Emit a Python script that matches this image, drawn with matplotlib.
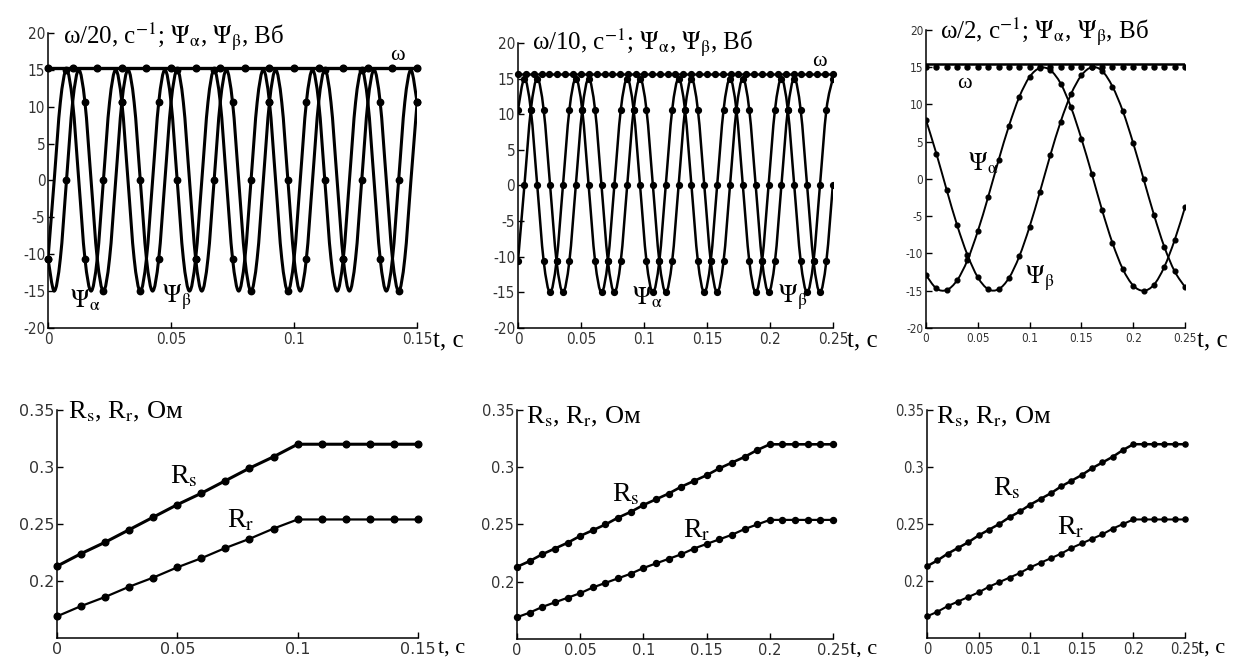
import numpy as np
import matplotlib
matplotlib.use('Agg')
import matplotlib.pyplot as plt
from matplotlib.path import Path
from matplotlib.patches import PathPatch

plt.rcParams['mathtext.fontset'] = 'stix'
SERIF = ['Liberation Serif', 'DejaVu Serif']
NARROW = ['Liberation Sans Narrow', 'DejaVu Sans']
SANS = ['DejaVu Sans']

# ---- top left: omega/20, psi_alpha, psi_beta, 0..0.15 s
t1 = np.arange(61) * 0.0025
psi_a1 = [-10.6, 0, 10.6, 15, 10.6, 0, -10.6, -15,
          -10.6, 0, 10.6, 15, 10.6, 0, -10.6, -15,
          -10.6, 0, 10.6, 15, 10.6, 0, -10.6, -15,
          -10.6, 0, 10.6, 15, 10.6, 0, -10.6, -15,
          -10.6, 0, 10.6, 15, 10.6, 0, -10.6, -15,
          -10.6, 0, 10.6, 15, 10.6, 0, -10.6, -15,
          -10.6, 0, 10.6, 15, 10.6, 0, -10.6, -15,
          -10.6, 0, 10.6, 15, 10.6]
psi_b1 = [-10.6, -15, -10.6, 0, 10.6, 15, 10.6, 0,
          -10.6, -15, -10.6, 0, 10.6, 15, 10.6, 0,
          -10.6, -15, -10.6, 0, 10.6, 15, 10.6, 0,
          -10.6, -15, -10.6, 0, 10.6, 15, 10.6, 0,
          -10.6, -15, -10.6, 0, 10.6, 15, 10.6, 0,
          -10.6, -15, -10.6, 0, 10.6, 15, 10.6, 0,
          -10.6, -15, -10.6, 0, 10.6, 15, 10.6, 0,
          -10.6, -15, -10.6, 0, 10.6]
tw1 = np.arange(16) * 0.01
w1 = [15.2] * 16

# ---- top middle: omega/10, 0..0.25 s
t2 = np.arange(50) * 0.0051
psi_a2 = [10.6, 15, 10.6, 0, -10.6, -15, -10.6, 0,
          10.6, 15, 10.6, 0, -10.6, -15, -10.6, 0,
          10.6, 15, 10.6, 0, -10.6, -15, -10.6, 0,
          10.6, 15, 10.6, 0, -10.6, -15, -10.6, 0,
          10.6, 15, 10.6, 0, -10.6, -15, -10.6, 0,
          10.6, 15, 10.6, 0, -10.6, -15, -10.6, 0,
          10.6, 15]
psi_b2 = [-10.6, 0, 10.6, 15, 10.6, 0, -10.6, -15,
          -10.6, 0, 10.6, 15, 10.6, 0, -10.6, -15,
          -10.6, 0, 10.6, 15, 10.6, 0, -10.6, -15,
          -10.6, 0, 10.6, 15, 10.6, 0, -10.6, -15,
          -10.6, 0, 10.6, 15, 10.6, 0, -10.6, -15,
          -10.6, 0, 10.6, 15, 10.6, 0, -10.6, -15,
          -10.6, 0]
tw2 = np.arange(41) * 0.00625
w2 = [15.7] * 41

# ---- top right: omega/2, 0..0.25 s
t3 = np.arange(26) * 0.01
psi_a3 = [7.9, 3.4, -1.5, -6.2, -10.2, -13.2, -14.8, -14.8, -13.3, -10.4,
          -6.4, -1.7, 3.2, 7.7, 11.4, 13.9, 15.0, 14.5, 12.4, 9.1,
          4.8, 0.0, -4.8, -9.1, -12.4, -14.5]
psi_b3 = [-12.9, -14.7, -14.9, -13.6, -10.9, -7.0, -2.4, 2.5, 7.1, 11.0,
          13.7, 14.9, 14.6, 12.8, 9.6, 5.4, 0.7, -4.2, -8.6, -12.1,
          -14.3, -15.0, -14.2, -11.8, -8.2, -3.8]
w3_line = [15.4] * 26
w3_mark = [15.0] * 26

# ---- bottom: R_s, R_r
t4 = np.arange(16) * 0.01
rs4 = [0.213, 0.224, 0.234, 0.245, 0.256, 0.267, 0.277, 0.288, 0.299, 0.309,
       0.320, 0.320, 0.320, 0.320, 0.320, 0.320]
rr4 = [0.169, 0.178, 0.186, 0.195, 0.203, 0.212, 0.220, 0.229, 0.237, 0.246,
       0.254, 0.254, 0.254, 0.254, 0.254, 0.254]
t5 = np.arange(26) * 0.01
rs5 = [0.213, 0.218, 0.224, 0.229, 0.234, 0.240, 0.245, 0.250, 0.256, 0.261,
       0.267, 0.272, 0.277, 0.283, 0.288, 0.293, 0.299, 0.304, 0.309, 0.315,
       0.320, 0.320, 0.320, 0.320, 0.320, 0.320]
rr5 = [0.169, 0.173, 0.178, 0.182, 0.186, 0.190, 0.195, 0.199, 0.203, 0.207,
       0.212, 0.216, 0.220, 0.224, 0.229, 0.233, 0.237, 0.241, 0.246, 0.250,
       0.254, 0.254, 0.254, 0.254, 0.254, 0.254]

psi_yticks = [-20, -15, -10, -5, 0, 5, 10, 15, 20]
r_yticks = [0.2, 0.25, 0.3, 0.35]
r_ylabels = ['0.2', '0.25', '0.3', '0.35']
x15 = [0, 0.05, 0.1, 0.15]
x15_lab = ['0', '0.05', '0.1', '0.15']
x25 = [0, 0.05, 0.1, 0.15, 0.2, 0.25]
x25_lab = ['0', '0.05', '0.1', '0.15', '0.2', '0.25']


def smooth(ax, x, y, lw):
    # Catmull-Rom curve through the points, drawn as cubic Bezier path
    x = np.asarray(x, float)
    y = np.asarray(y, float)
    xp = np.r_[x[0], x, x[-1]]
    yp = np.r_[y[0], y, y[-1]]
    verts = [(x[0], y[0])]
    codes = [Path.MOVETO]
    for i in range(len(x) - 1):
        c1 = (xp[i + 1] + (xp[i + 2] - xp[i]) / 6, yp[i + 1] + (yp[i + 2] - yp[i]) / 6)
        c2 = (xp[i + 2] - (xp[i + 3] - xp[i + 1]) / 6, yp[i + 2] - (yp[i + 3] - yp[i + 1]) / 6)
        verts += [c1, c2, (x[i + 1], y[i + 1])]
        codes += [Path.CURVE4] * 3
    ax.add_patch(PathPatch(Path(verts, codes), fill=False, lw=lw, ec='k',
                           joinstyle='round', capstyle='round'))


def setup(ax, xlim, ylim, xt, xl, yt, yl, fam, size, stretch='normal'):
    ax.set_xlim(xlim)
    ax.set_ylim(ylim)
    ax.set_xticks(xt)
    ax.set_xticklabels(xl, family=fam, fontsize=size, color='#333333',
                       fontstretch=stretch)
    ax.set_yticks(yt)
    ax.set_yticklabels(yl, family=fam, fontsize=size, color='#333333',
                       fontstretch=stretch)
    for s in ['top', 'right']:
        ax.spines[s].set_visible(False)
    for s in ['left', 'bottom']:
        ax.spines[s].set_linewidth(1.1)
    ax.tick_params(direction='in', length=4, width=1, pad=2)
    ax.tick_params(axis='x', pad=3)


def tlabel(ax, dx, dy, size):
    ax.annotate('t, с', xy=(1, 0), xycoords='axes fraction', xytext=(dx, dy),
                textcoords='offset pixels', ha='left', va='baseline',
                family=SERIF, fontsize=size)


fig = plt.figure(figsize=(12.38, 6.57), dpi=100)
fig.patch.set_facecolor('white')

ax1 = fig.add_axes([0.0388, 0.5008, 0.2981, 0.4490])
ax2 = fig.add_axes([0.4184, 0.5008, 0.2544, 0.4338])
ax3 = fig.add_axes([0.7480, 0.5008, 0.2092, 0.4536])
ax4 = fig.add_axes([0.0460, 0.0289, 0.2916, 0.3470])
ax5 = fig.add_axes([0.4176, 0.0274, 0.2553, 0.3486])
ax6 = fig.add_axes([0.7488, 0.0289, 0.2084, 0.3470])

psi_ylab = [str(v) for v in psi_yticks]

# panel 1
setup(ax1, (0, 0.15), (-20, 20), x15, x15_lab, psi_yticks, psi_ylab, NARROW, 11, 'condensed')
smooth(ax1, t1, psi_a1, 2.2)
smooth(ax1, t1, psi_b1, 2.2)
ax1.plot(t1[::3], psi_a1[::3], 'o', color='k', ms=4.6, clip_on=False)
ax1.plot(t1[::3], psi_b1[::3], 'o', color='k', ms=4.6, clip_on=False)
ax1.plot(tw1, w1, '-o', color='k', lw=2.4, ms=4.8, clip_on=False)
ax1.text(0.0061, 19.5, 'ω/20, с$^{-1}$; $\\Psi_{\\mathrm{\\alpha}}$, $\\Psi_{\\mathrm{\\beta}}$, Вб',
         family=SERIF, fontsize=18, va='center', ha='left')
ax1.text(0.0089, -16.2, '$\\Psi_{\\mathrm{\\alpha}}$', fontsize=18, va='center')
ax1.text(0.0463, -15.9, '$\\Psi_{\\mathrm{\\beta}}$', fontsize=18, va='center')
ax1.text(0.139, 16.9, 'ω', family=SERIF, fontsize=16, va='center')
tlabel(ax1, 16, -19, 18)

# panel 2
setup(ax2, (0, 0.25), (-20, 20), x25, x25_lab, psi_yticks, psi_ylab, NARROW, 11, 'condensed')
smooth(ax2, t2, psi_a2, 1.8)
smooth(ax2, t2, psi_b2, 1.8)
ax2.plot(t2, psi_a2, 'o', color='k', ms=4.2)
ax2.plot(t2, psi_b2, 'o', color='k', ms=4.2)
ax2.plot(tw2, w2, '-o', color='k', lw=1.8, ms=4.2, clip_on=False)
ax2.text(0.011, 20.0, 'ω/10, с$^{-1}$; $\\Psi_{\\mathrm{\\alpha}}$, $\\Psi_{\\mathrm{\\beta}}$, Вб',
         family=SERIF, fontsize=18, va='center', ha='left')
ax2.text(0.0905, -15.7, '$\\Psi_{\\mathrm{\\alpha}}$', fontsize=18, va='center')
ax2.text(0.2063, -15.7, '$\\Psi_{\\mathrm{\\beta}}$', fontsize=18, va='center')
ax2.text(0.2333, 17.4, 'ω', family=SERIF, fontsize=16, va='center')
tlabel(ax2, 14, -19, 18)

# panel 3
setup(ax3, (0, 0.25), (-20, 20), x25, x25_lab, psi_yticks, psi_ylab, NARROW, 8.5, 'condensed')
smooth(ax3, t3, psi_a3, 1.4)
smooth(ax3, t3, psi_b3, 1.4)
ax3.plot(t3, psi_a3, 'o', color='k', ms=3.4)
ax3.plot(t3, psi_b3, 'o', color='k', ms=3.4)
ax3.plot(t3, w3_line, '-', color='k', lw=1.8)
ax3.plot(t3, w3_mark, 'o', color='k', ms=3.6)
ax3.text(0.0135, 19.7, 'ω/2, с$^{-1}$; $\\Psi_{\\mathrm{\\alpha}}$, $\\Psi_{\\mathrm{\\beta}}$, Вб',
         family=SERIF, fontsize=18, va='center', ha='left')
ax3.text(0.030, 12.75, 'ω', family=SERIF, fontsize=16, va='center')
ax3.text(0.0405, 2.1, '$\\Psi_{\\mathrm{\\alpha}}$', fontsize=18, va='center')
ax3.text(0.0956, -13.3, '$\\Psi_{\\mathrm{\\beta}}$', fontsize=18, va='center')
tlabel(ax3, 12, -19, 18)

# bottom panels
r_title = 'R$_\\mathrm{s}$, R$_\\mathrm{r}$, Ом'
bottom = [
    (ax4, t4, rs4, rr4, (0, 0.15), x15, x15_lab, SANS, 11.5, 'normal', 2.2, 1.6, 4.8,
     (0.0046, 0.348), (0.047, 0.2916), (0.0706, 0.2532), 20),
    (ax5, t5, rs5, rr5, (0, 0.25), x25, x25_lab, SANS, 10.5, 'normal', 1.9, 1.6, 4.3,
     (0.007, 0.344), (0.0752, 0.2759), (0.1313, 0.2445), 17),
    (ax6, t5, rs5, rr5, (0, 0.25), x25, x25_lab, NARROW, 10.5, 'condensed', 1.8, 1.5, 3.7,
     (0.0087, 0.344), (0.064, 0.281), (0.126, 0.247), 13),
]
for (ax, t, rs, rr, xlim, xt, xl, fam, size, stretch, lws, lwr, ms,
     tpos, spos, rpos, dx) in bottom:
    setup(ax, xlim, (0.15, 0.35), xt, xl, r_yticks, r_ylabels, fam, size, stretch)
    ax.plot(t, rs, '-o', color='k', lw=lws, ms=ms, clip_on=False)
    ax.plot(t, rr, '-o', color='k', lw=lwr, ms=ms, clip_on=False)
    ax.text(tpos[0], tpos[1], r_title, family=SERIF, fontsize=19, va='center')
    ax.text(spos[0], spos[1], 'R$_\\mathrm{s}$', family=SERIF, fontsize=20, va='center')
    ax.text(rpos[0], rpos[1], 'R$_\\mathrm{r}$', family=SERIF, fontsize=20, va='center')
    tlabel(ax, dx, -15, 16)

fig.savefig('out.png', dpi=100, facecolor='white')
